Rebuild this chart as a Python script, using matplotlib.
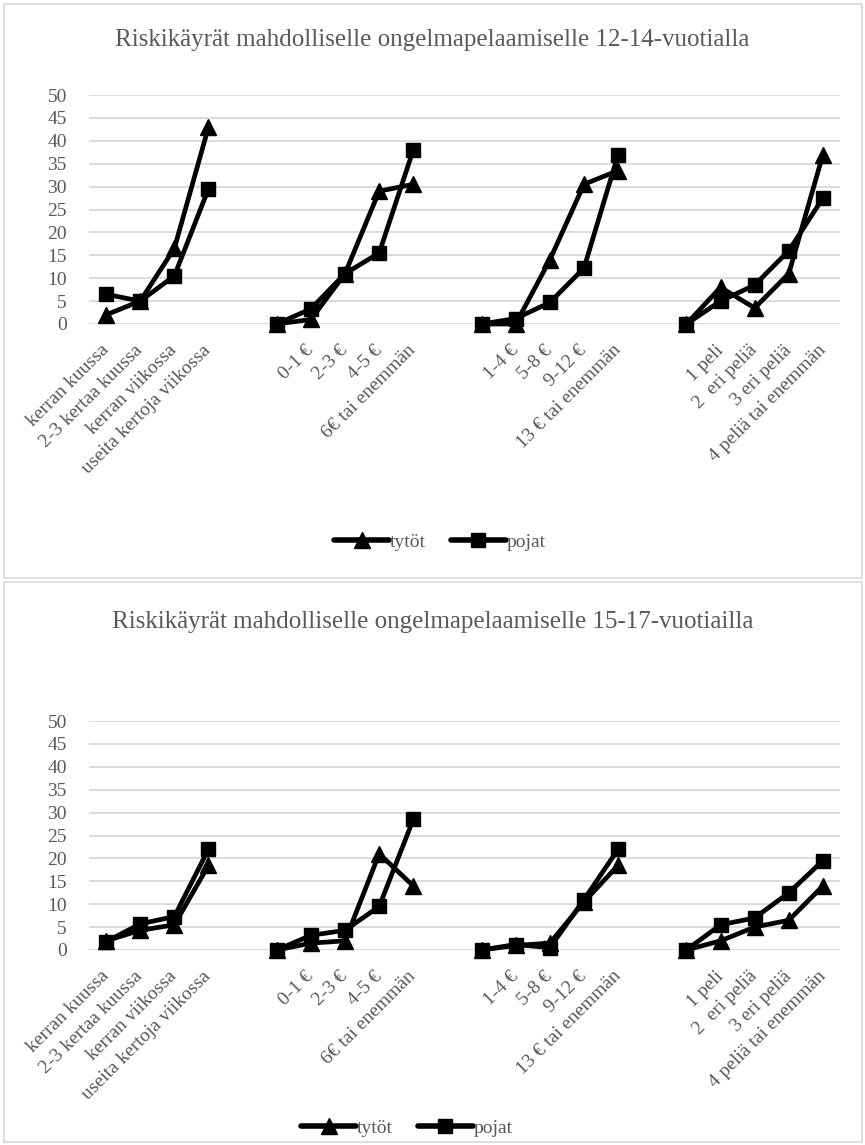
import numpy as np
import matplotlib.pyplot as plt
from matplotlib.patches import Rectangle
from matplotlib.lines import Line2D

# category labels, empty string = unlabeled start point of a group
groups = [
    ["kerran kuussa", "2-3 kertaa kuussa", "kerran viikossa", "useita kertoja viikossa"],
    ["", "0-1 €", "2-3 €", "4-5 €", "6€ tai enemmän"],
    ["", "1-4 €", "5-8 €", "9-12 €", "13 € tai enemmän"],
    ["", "1 peli", "2  eri peliä", "3 eri peliä", "4 peliä tai enemmän"],
]

# 12-14 year olds
tytot_12 = [[2, 5, 16.5, 43], [0, 1, 11, 29, 30.5], [0, 0, 14, 30.5, 33.5], [0, 8, 3.5, 11, 37]]
pojat_12 = [[6.5, 5, 10.5, 29.5], [0, 3.3, 11, 15.5, 38], [0, 1.2, 4.7, 12.2, 37], [0, 5, 8.5, 16, 27.5]]

# 15-17 year olds
tytot_15 = [[2, 4.3, 5.5, 18.5], [0, 1.5, 2, 21, 14], [0, 1, 1.5, 10.5, 18.5], [0, 2, 5, 6.5, 14]]
pojat_15 = [[1.8, 5.7, 7.3, 22], [0, 3.2, 4.3, 9.5, 28.5], [0, 1.2, 0.5, 11, 22], [0, 5.5, 7, 12.5, 19.5]]

titles = ["Riskikäyrät mahdolliselle ongelmapelaamiselle 12-14-vuotialla",
          "Riskikäyrät mahdolliselle ongelmapelaamiselle 15-17-vuotiailla"]


def with_gaps(parts):
    out = []
    for i, p in enumerate(parts):
        if i > 0:
            out.append(np.nan)
        out.extend(p)
    return np.array(out, dtype=float)


labels = []
for i, g in enumerate(groups):
    if i > 0:
        labels.append("")
    labels.extend(g)
x = np.arange(len(labels))

plt.rcParams['font.family'] = ['Liberation Serif', 'DejaVu Serif']
grey = '#595959'

W, H = 865, 1145
fig = plt.figure(figsize=(W / 100, H / 100), dpi=100)

# chart frames
for y0, y1 in [(4, 578), (582, 1142)]:
    fig.patches.append(Rectangle((4 / W, 1 - y1 / H), 858 / W, (y1 - y0) / H,
                                 transform=fig.transFigure, fill=False,
                                 edgecolor='#d9d9d9', lw=1.2))

panels = [
    dict(top=95, bottom=324, title_y=40, legend_y=542, legend_x=440, t=tytot_12, p=pojat_12),
    dict(top=721, bottom=950, title_y=622, legend_y=1128, legend_x=407, t=tytot_15, p=pojat_15),
]

for k, pn in enumerate(panels):
    ax = fig.add_axes([89 / W, 1 - pn['bottom'] / H, 751 / W, (pn['bottom'] - pn['top']) / H])
    ax.set_xlim(-0.5, len(labels) - 0.5)
    ax.set_ylim(0, 50)
    ax.set_yticks(range(0, 51, 5))
    ax.yaxis.grid(True, color='#d9d9d9', lw=1.3)
    ax.set_axisbelow(True)
    for s in ax.spines.values():
        s.set_visible(False)
    ax.tick_params(length=0, labelsize=14, labelcolor=grey)
    ax.tick_params(axis='y', pad=16)
    ax.set_xticks(x)
    ax.set_xticklabels(labels, rotation=45, ha='right', va='center',
                       rotation_mode='anchor', fontsize=14, color=grey)
    ax.tick_params(axis='x', pad=17)

    ax.plot(x, with_gaps(pn['t']), color='black', lw=3.4, marker='^', ms=11,
            clip_on=False, zorder=3)
    ax.plot(x, with_gaps(pn['p']), color='black', lw=3.4, marker='s', ms=10.5,
            clip_on=False, zorder=3)

    fig.text(0.5, 1 - pn['title_y'] / H, titles[k], ha='center', va='center',
             fontsize=18, color=grey)

    handles = [Line2D([], [], color='black', lw=4, marker='^', ms=11, solid_capstyle='round'),
               Line2D([], [], color='black', lw=4, marker='s', ms=10.5, solid_capstyle='round')]
    fig.legend(handles, ['tytöt', 'pojat'], loc='center',
               bbox_to_anchor=(pn['legend_x'] / W, 1 - pn['legend_y'] / H),
               ncol=2, frameon=False, fontsize=14, labelcolor=grey,
               handlelength=2.8, handletextpad=0.05, columnspacing=1.3)

fig.savefig('out.png', dpi=100, facecolor='white')
